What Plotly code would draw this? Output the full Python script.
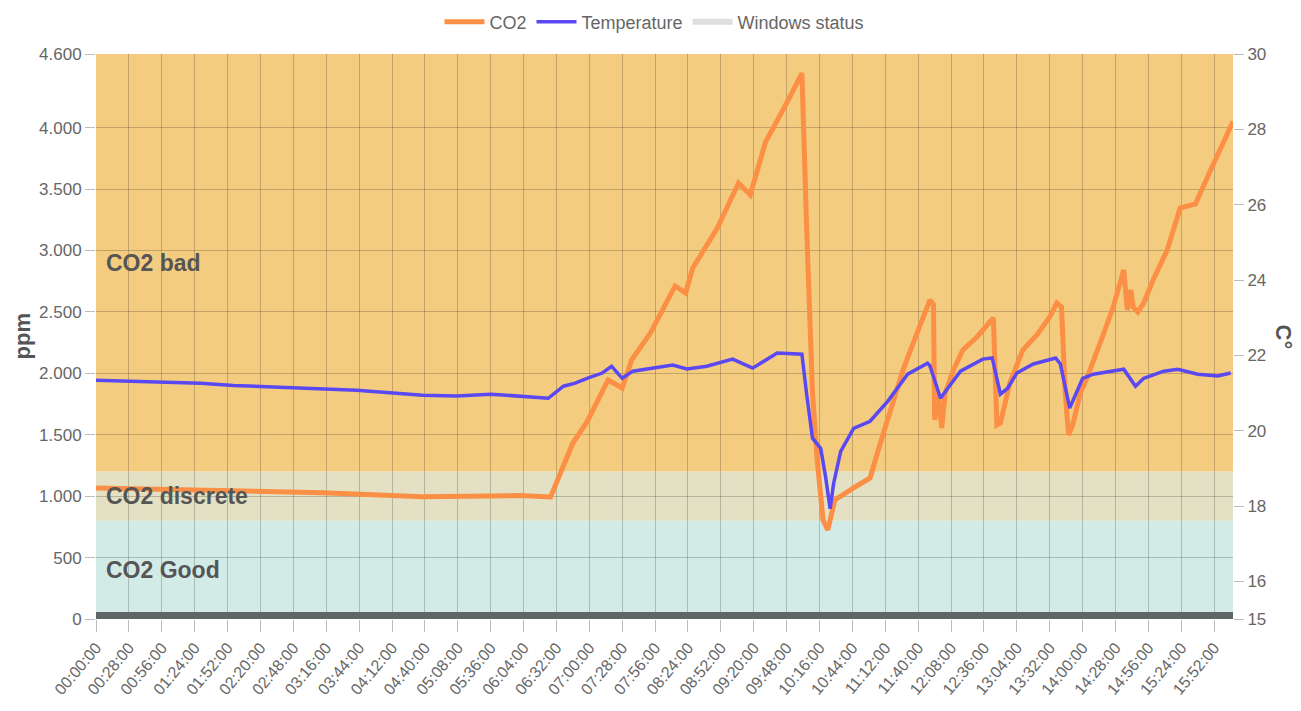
import plotly.graph_objects as go

# ---------------- data ----------------
co2_time = ["00:00", "01:29", "03:13", "04:38", "05:27", "06:01", "06:27", "06:46", "06:58",
            "07:16", "07:28", "07:36", "07:52", "08:13", "08:22", "08:28", "08:49", "09:07",
            "09:17", "09:30", "09:48", "10:01", "10:05", "10:10", "10:14", "10:19", "10:23",
            "10:29", "10:45", "10:59", "11:06", "11:16", "11:27", "11:39", "11:50", "11:53",
            "11:54", "11:57", "12:00", "12:03", "12:10", "12:18", "12:30", "12:44", "12:46",
            "12:47", "12:50", "12:58", "13:09", "13:21", "13:32", "13:38", "13:42", "13:45",
            "13:48", "13:52", "13:58", "14:04", "14:18", "14:26", "14:35", "14:38", "14:41",
            "14:43", "14:47", "14:52", "15:00", "15:12", "15:23", "15:36", "15:49", "16:08"]
co2_ppm = [1067, 1050, 1028, 995, 1001, 1005, 993, 1433, 1604,
           1946, 1881, 2109, 2328, 2711, 2654, 2858, 3183, 3550,
           3452, 3883, 4201, 4445, 3191, 1840, 1294, 806, 725,
           969, 1067, 1148, 1376, 1702, 2027, 2328, 2597, 2560,
           1620, 1840, 1555, 1840, 2027, 2190, 2296, 2451, 1921,
           1579, 1596, 1921, 2190, 2312, 2459, 2573, 2540, 1864,
           1498, 1596, 1840, 1970, 2328, 2540, 2841, 2516, 2679,
           2540, 2499, 2573, 2760, 3004, 3346, 3379, 3655, 4050]

temp_time = ["00:00", "01:29", "01:57", "03:42", "04:38", "05:07", "05:36", "06:01", "06:25",
             "06:38", "06:48", "06:58", "07:11", "07:19", "07:28", "07:37", "07:54", "08:11",
             "08:23", "08:40", "09:02", "09:19", "09:40", "09:57", "10:01", "10:05", "10:10",
             "10:17", "10:21", "10:25", "10:28", "10:34", "10:45", "10:59", "11:14", "11:31",
             "11:48", "11:50", "11:59", "12:05", "12:16", "12:35", "12:43", "12:50", "12:56",
             "13:04", "13:18", "13:37", "13:41", "13:49", "14:00", "14:09", "14:35", "14:45",
             "14:52", "15:09", "15:21", "15:38", "15:55", "16:06"]
temp_c = [21.34, 21.26, 21.20, 21.07, 20.94, 20.92, 20.97, 20.92, 20.86,
          21.18, 21.26, 21.39, 21.53, 21.71, 21.39, 21.58, 21.66, 21.74,
          21.64, 21.71, 21.90, 21.66, 22.06, 22.03, 22.03, 20.97, 19.80,
          19.53, 18.80, 17.93, 18.60, 19.45, 20.06, 20.25, 20.78, 21.50,
          21.79, 21.72, 20.86, 21.12, 21.58, 21.90, 21.93, 20.97, 21.12,
          21.53, 21.77, 21.93, 21.77, 20.60, 21.39, 21.50, 21.63, 21.18,
          21.39, 21.58, 21.63, 21.50, 21.45, 21.53]

window_time = ["00:00", "16:08"]
window_state = [0, 0]

band_names = ["CO2 Good", "CO2 discrete", "CO2 bad"]
band_low = [0, 800, 1200]
band_high = [800, 1200, 4600]
band_colors = ["#d3ebe7", "#e3e0c3", "#f4cc80"]

ppm_ticks = [0, 500, 1000, 1500, 2000, 2500, 3000, 3500, 4000, 4600]
temp_ticks = [15, 16, 18, 20, 22, 24, 26, 28, 30]
x_tick_step_min = 28
x_last_tick_min = 952
x_end_min = 968


def to_min(t):
    h, m = t.split(":")
    return int(h) * 60 + int(m)


def fmt_thousands(v):
    return f"{v:,}".replace(",", ".")


tick_mins = list(range(0, x_last_tick_min + 1, x_tick_step_min))
tick_text = [f"{m // 60:02d}:{m % 60:02d}:00" for m in tick_mins]

FONT = "Liberation Sans, Arial, sans-serif"
TXT = "#666666"
GRID = "rgba(0,0,0,0.20)"

# the page body adds an 8px offset, so the figure is sized to fit inside the window
W, H = 1293, 703
M_L, M_R, M_T, M_B = 88, 68, 46, 92
plot_h = H - M_T - M_B

fig = go.Figure()

# windows status strip (along the bottom)
fig.add_trace(go.Scatter(
    x=[to_min(t) for t in window_time], y=window_state, mode="lines",
    line=dict(color="#5f6564", width=14), showlegend=False, hoverinfo="skip"))

fig.add_trace(go.Scatter(
    x=[to_min(t) for t in co2_time], y=co2_ppm, mode="lines", name="CO2",
    line=dict(color="#fb8f45", width=5)))

fig.add_trace(go.Scatter(
    x=[to_min(t) for t in temp_time], y=temp_c, mode="lines", name="Temperature",
    yaxis="y2", line=dict(color="#5a48f2", width=3.5)))

fig.add_trace(go.Scatter(
    x=[None], y=[None], mode="lines", name="Windows status",
    line=dict(color="#dedede", width=6)))

shapes = []
annotations = []
for name, lo, hi, col in zip(band_names, band_low, band_high, band_colors):
    shapes.append(dict(type="rect", xref="paper", yref="y", x0=0, x1=1, y0=lo, y1=hi,
                       fillcolor=col, line=dict(width=0), layer="below"))
    annotations.append(dict(xref="paper", yref="y", x=0, xshift=8, y=(lo + hi) / 2,
                            xanchor="left", yanchor="middle", text=f"<b>{name}</b>",
                            showarrow=False, font=dict(family=FONT, size=23, color="#555555")))

annotations.append(dict(xref="paper", yref="paper", x=1, xshift=50, y=0.5,
                        xanchor="center", yanchor="middle",
                        text="<b>C°</b>", textangle=90, showarrow=False,
                        font=dict(family=FONT, size=22, color="#555555")))
annotations.append(dict(xref="paper", yref="paper", x=0, xshift=-74, y=0.5,
                        xanchor="center", yanchor="middle",
                        text="<b>ppm</b>", textangle=-90, showarrow=False,
                        font=dict(family=FONT, size=22, color="#555555")))

fig.update_layout(
    width=W, height=H,
    margin=dict(l=M_L, r=M_R, t=M_T, b=M_B, autoexpand=False),
    paper_bgcolor="white", plot_bgcolor="white",
    font=dict(family=FONT, size=17, color=TXT),
    shapes=shapes, annotations=annotations,
    legend=dict(orientation="h", xref="container", x=0.5, xanchor="center",
                yref="paper", y=1 + (M_T - 14) / plot_h, yanchor="middle",
                font=dict(size=18, color=TXT), itemwidth=40, tracegroupgap=0),
    xaxis=dict(range=[0, x_end_min], tickvals=tick_mins, ticktext=tick_text,
               tickangle=-50, showgrid=True, gridcolor=GRID, gridwidth=1,
               ticks="outside", ticklen=12, tickcolor="#bbbbbb", zeroline=False,
               showline=False, automargin=False, tickfont=dict(size=16, color=TXT)),
    yaxis=dict(range=[0, 4600], tickvals=ppm_ticks,
               ticktext=[fmt_thousands(v) for v in ppm_ticks],
               showgrid=True, gridcolor=GRID, gridwidth=1, zeroline=False,
               ticks="outside", ticklen=10, tickcolor="#bbbbbb", automargin=False,
               tickfont=dict(size=17, color=TXT)),
    yaxis2=dict(range=[15, 30], tickvals=temp_ticks, overlaying="y", side="right",
                showgrid=False, zeroline=False, ticks="outside", ticklen=10,
                tickcolor="#bbbbbb", automargin=False, tickfont=dict(size=17, color=TXT)),
)

fig.write_html("out.html")
